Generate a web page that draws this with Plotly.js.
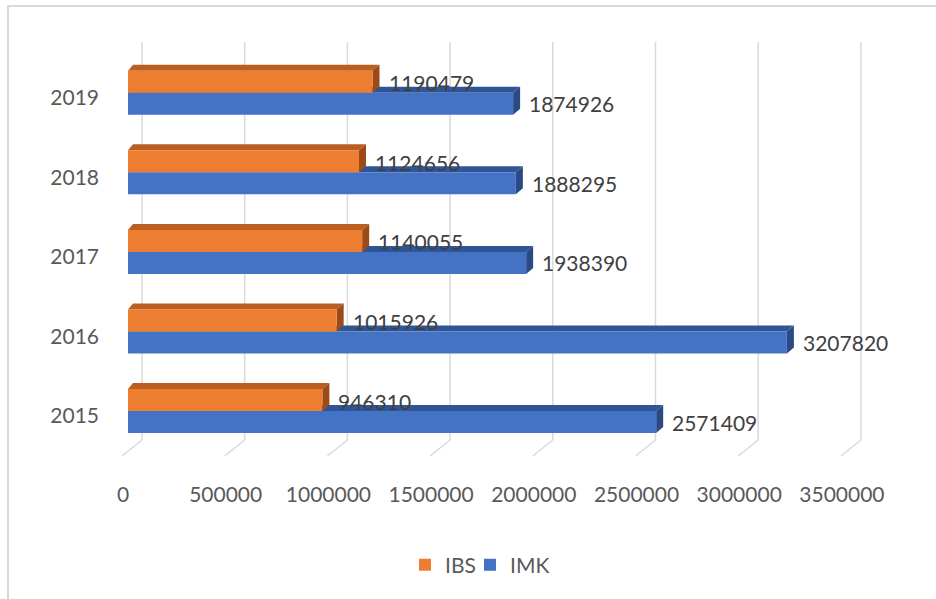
<!DOCTYPE html>
<html>
<head>
<meta charset="utf-8">
<script src="https://cdn.plot.ly/plotly-3.0.1.min.js"></script>
<style>
  html, body { margin: 0; padding: 0; background: #ffffff; }
  #wrap { position: relative; width: 936px; height: 599px; overflow: hidden; }
  #chart { position: absolute; left: 0; top: 0; width: 936px; height: 599px; }
  #frame { position: absolute; left: 7px; top: 5px; width: 940px; height: 600px;
           border-left: 2px solid #d9d9d9; border-top: 2px solid #d9d9d9; pointer-events: none; }
</style>
</head>
<body>
<div id="wrap"><div id="chart"></div><div id="frame"></div></div>
<script>
// ---- data ----
const years = ['2015', '2016', '2017', '2018', '2019'];
const ibsValues = [946310, 1015926, 1140055, 1124656, 1190479];
const imkValues = [2571409, 3207820, 1938390, 1888295, 1874926];
const xTickValues = [0, 500000, 1000000, 1500000, 2000000, 2500000, 3000000, 3500000];
const xTickLabels = ['0', '500000', '1000000', '1500000', '2000000', '2500000', '3000000', '3500000'];

// ---- layout geometry (pixels) ----
const W = 936, H = 599;
const plotLeft = 110, plotRight = 876, zeroPx = 128;
const scale = 102.7 / 500000;            // px per unit
const plotTop = 35, plotBottom = 470;
const topCatPx = 92.8, bottomCatPx = 411.0;
const step = (bottomCatPx - topCatPx) / (years.length - 1);
const barPx = 22;

const xmin = (plotLeft - zeroPx) / scale;
const xmax = (plotRight - zeroPx) / scale;
const ymax = (years.length - 1) + (topCatPx - plotTop) / step;
const ymin = -(plotBottom - bottomCatPx) / step;

const depthUp = 6, depthL = 5, depthR = 7;
const dL = depthL / scale, dR = depthR / scale;

const COL = {
  ibs: '#ED7D31', ibsTop: '#BA5E22', ibsSide: '#9C4A17',
  imk: '#4472C4', imkTop: '#2F5597', imkSide: '#2A4A86'
};

const fontFam = 'Lato, "Open Sans", sans-serif';
const fs = 21;

const traces = [
  { type: 'bar', orientation: 'h', name: 'IMK', y: years, x: imkValues, legend: 'legend2',
    marker: { color: COL.imk, line: { width: 0 } }, hoverinfo: 'x+name' },
  { type: 'bar', orientation: 'h', name: 'IBS', y: years, x: ibsValues, legend: 'legend',
    marker: { color: COL.ibs, line: { width: 0 } }, hoverinfo: 'x+name' }
];

const shapes = [];
// 3D-style gridlines (back wall + floor diagonals)
const gBottom = plotBottom - 440, gTop = plotBottom - 42, gFloor = plotBottom - 456;
xTickValues.forEach(v => {
  shapes.push({ type: 'line', layer: 'below', xref: 'x', yref: 'paper',
    xsizemode: 'pixel', xanchor: v, ysizemode: 'pixel', yanchor: 0,
    x0: 14, x1: 14, y0: gBottom, y1: gTop, line: { color: '#d9d9d9', width: 1.5 } });
  shapes.push({ type: 'line', layer: 'below', xref: 'x', yref: 'paper',
    xsizemode: 'pixel', xanchor: v, ysizemode: 'pixel', yanchor: 0,
    x0: 14, x1: -6, y0: gBottom, y1: gFloor, line: { color: '#d9d9d9', width: 1.5 } });
});

// top and side faces of the bars (category index used as the anchor)
function faces(vals, base, topCol, sideCol) {
  vals.forEach((v, i) => {
    const b0 = base, b1 = base + barPx;
    const top = `M0,${b1} L${v},${b1} L${v + dR},${b1 + depthUp} L${dL},${b1 + depthUp} Z`;
    const side = `M${v},${b0} L${v + dR},${b0 + depthUp} L${v + dR},${b1 + depthUp} L${v},${b1} Z`;
    [[top, topCol], [side, sideCol]].forEach(([p, c]) => {
      shapes.push({ type: 'path', layer: 'between', xref: 'x', yref: 'y',
        ysizemode: 'pixel', yanchor: i, path: p,
        fillcolor: c, line: { width: 0 } });
    });
  });
}
faces(imkValues, -barPx, COL.imkTop, COL.imkSide);
faces(ibsValues, 0, COL.ibsTop, COL.ibsSide);

const annotations = [];
function labels(vals, yshift) {
  vals.forEach((v, i) => {
    annotations.push({ x: v, y: i, xref: 'x', yref: 'y', text: String(v),
      showarrow: false, xanchor: 'left', yanchor: 'middle', xshift: 14, yshift: yshift,
      font: { family: fontFam, size: fs, color: '#404040' } });
  });
}
labels(ibsValues, 10);
labels(imkValues, -11);

const px2paperX = p => (p - plotLeft) / (plotRight - plotLeft);
const legY = -(565 - plotBottom) / (plotBottom - plotTop);
const legFont = { family: fontFam, size: fs, color: '#595959' };

const layout = {
  width: W, height: H,
  margin: { l: plotLeft, r: W - plotRight, t: plotTop, b: H - plotBottom, pad: 0 },
  paper_bgcolor: 'rgba(0,0,0,0)', plot_bgcolor: 'rgba(0,0,0,0)',
  barmode: 'group', bargap: 1 - (2 * barPx) / step, bargroupgap: 0,
  font: { family: fontFam, size: fs, color: '#595959' },
  xaxis: { range: [xmin, xmax], tickmode: 'array', tickvals: xTickValues, ticktext: xTickLabels,
    showgrid: false, zeroline: false, showline: false, ticks: '',
    ticklabelstandoff: 10, ticklabelshift: -5,
    tickfont: { family: fontFam, size: fs, color: '#595959' } },
  yaxis: { type: 'category', range: [ymin, ymax], showgrid: false, zeroline: false,
    showline: false, ticks: '', ticklabelstandoff: 10, ticklabelshift: 5,
    tickfont: { family: fontFam, size: fs, color: '#595959' } },
  showlegend: true,
  legend: { orientation: 'h', x: px2paperX(405), xanchor: 'left', y: legY, yanchor: 'middle',
    font: legFont, bgcolor: 'rgba(0,0,0,0)' },
  legend2: { orientation: 'h', x: px2paperX(470), xanchor: 'left', y: legY, yanchor: 'middle',
    font: legFont, bgcolor: 'rgba(0,0,0,0)' },
  shapes: shapes, annotations: annotations
};

Plotly.newPlot('chart', traces, layout, { displayModeBar: false, staticPlot: true });
</script>
</body>
</html>
